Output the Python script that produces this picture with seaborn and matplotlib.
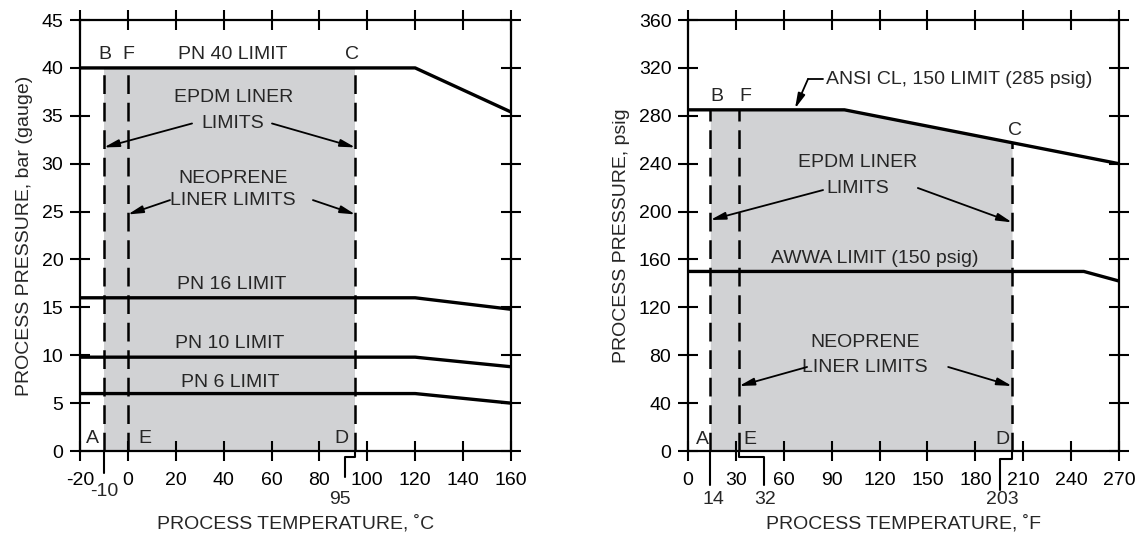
import matplotlib
matplotlib.use("Agg")
import matplotlib.pyplot as plt
import matplotlib.transforms as mtransforms
import numpy as np
import seaborn as sns

# --- data (metric chart) ---
temp_c = [-20, 120, 160]
pn40 = [40, 40, 35.4]
pn16 = [16, 16, 14.8]
pn10 = [9.8, 9.8, 8.8]
pn6 = [6, 6, 5.0]
c_limits = [-10, 0, 95]          # B/A, F/E, C/D
c_ticks = [-20, 0, 20, 40, 60, 80, 100, 120, 140, 160]
bar_ticks = [0, 5, 10, 15, 20, 25, 30, 35, 40, 45]

# --- data (imperial chart) ---
temp_f_ansi = [0, 98, 270]
ansi = [285, 285, 240]
temp_f_awwa = [0, 248, 270]
awwa = [150, 150, 142]
f_limits = [14, 32, 203]         # B/A, F/E, C/D
f_ticks = [0, 30, 60, 90, 120, 150, 180, 210, 240, 270]
psig_ticks = [0, 40, 80, 120, 160, 200, 240, 280, 320, 360]

sns.set_style("ticks")
plt.rcParams['font.family'] = ['Liberation Sans', 'DejaVu Sans']
FS = 14
GRAY = '#d1d2d4'
LW = 2.4
DASH = (7.5, 3.5)

fig = plt.figure(figsize=(11.41, 5.33), dpi=100)
ax1 = fig.add_axes([0.0701, 0.1538, 0.3777, 0.8086])
ax2 = fig.add_axes([0.603, 0.1538, 0.3777, 0.8086])


def frame(ax):
    for s in ax.spines.values():
        s.set_linewidth(1.6)
        s.set_color('k')
    ax.tick_params(direction='inout', length=14, width=1.5, top=True, right=True,
                   labeltop=False, labelright=False, labelsize=FS, colors='k')
    ax.tick_params(axis='x', pad=8)
    ax.tick_params(axis='y', pad=5)


def arrow(ax, start, end):
    ax.annotate('', xy=end, xytext=start,
                arrowprops=dict(arrowstyle='-|>,head_length=0.9,head_width=0.22',
                                color='k', lw=1.3, shrinkA=0, shrinkB=0))


def leader(ax, pts):
    tr = mtransforms.blended_transform_factory(ax.transData, ax.transAxes)
    xs, ys = zip(*pts)
    ax.plot(xs, ys, color='k', lw=1.5, transform=tr, clip_on=False)


def under_label(ax, x, y, s):
    tr = mtransforms.blended_transform_factory(ax.transData, ax.transAxes)
    ax.text(x, y, s, transform=tr, ha='center', va='center', fontsize=FS)


# ---------------- left chart ----------------
ax = ax1
ax.fill_between([c_limits[0], c_limits[2]], 0, 40, color=GRAY, lw=0, zorder=0)
for t in c_limits:
    ax.plot([t, t], [0, 40], color='k', lw=1.8, dashes=DASH, zorder=2)
for y in (pn40, pn16, pn10, pn6):
    sns.lineplot(x=temp_c, y=y, ax=ax, color='k', lw=LW, zorder=3)
ax.set_xlim(-20, 160)
ax.set_ylim(0, 45)
ax.set_xticks(c_ticks)
ax.set_yticks(bar_ticks)
ax.set_xticklabels([str(v) for v in c_ticks])
frame(ax)
ax.set_xlabel('PROCESS TEMPERATURE, ˚C', fontsize=FS, labelpad=19)
ax.set_ylabel('PROCESS PRESSURE, bar (gauge)', fontsize=FS, labelpad=6)

ax.text(-9.6, 41.4, 'B', ha='center', va='center', fontsize=FS)
ax.text(0, 41.4, 'F', ha='center', va='center', fontsize=FS)
ax.text(93.6, 41.4, 'C', ha='center', va='center', fontsize=FS)
ax.text(44, 41.4, 'PN 40 LIMIT', ha='center', va='center', fontsize=FS)
ax.text(-14.6, 1.3, 'A', ha='center', va='center', fontsize=FS)
ax.text(4.5, 1.3, 'E', ha='left', va='center', fontsize=FS)
ax.text(89.4, 1.3, 'D', ha='center', va='center', fontsize=FS)
ax.text(43.5, 17.4, 'PN 16 LIMIT', ha='center', va='center', fontsize=FS)
ax.text(42.7, 11.2, 'PN 10 LIMIT', ha='center', va='center', fontsize=FS)
ax.text(42.7, 7.2, 'PN 6 LIMIT', ha='center', va='center', fontsize=FS)
ax.text(44, 36.9, 'EPDM LINER', ha='center', va='center', fontsize=FS)
ax.text(44, 34.2, 'LIMITS', ha='center', va='center', fontsize=FS)
ax.text(44, 28.5, 'NEOPRENE', ha='center', va='center', fontsize=FS)
ax.text(44, 26.2, 'LINER LIMITS', ha='center', va='center', fontsize=FS)
arrow(ax, (26.8, 34.2), (-10, 31.7))
arrow(ax, (60.2, 34.2), (95, 31.7))
arrow(ax, (17.6, 26.2), (0, 24.7))
arrow(ax, (77.3, 26.2), (95, 24.7))

leader(ax, [(-10, 0), (-10, -0.051)])
leader(ax, [(95, 0), (95, -0.014), (90.7, -0.014), (90.7, -0.06)])
under_label(ax, -9.8, -0.095, '-10')
under_label(ax, 88.6, -0.112, '95')

# ---------------- right chart ----------------
ax = ax2
fx = [f_limits[0], temp_f_ansi[1], f_limits[2]]
ax.fill_between(fx, 0, np.interp(fx, temp_f_ansi, ansi), color=GRAY, lw=0, zorder=0)
for t in f_limits:
    ax.plot([t, t], [0, np.interp(t, temp_f_ansi, ansi)], color='k', lw=1.8,
            dashes=DASH, zorder=2)
sns.lineplot(x=temp_f_ansi, y=ansi, ax=ax, color='k', lw=LW, zorder=3)
sns.lineplot(x=temp_f_awwa, y=awwa, ax=ax, color='k', lw=LW, zorder=3)
ax.set_xlim(0, 270)
ax.set_ylim(0, 360)
ax.set_xticks(f_ticks)
ax.set_yticks(psig_ticks)
frame(ax)
ax.set_xlabel('PROCESS TEMPERATURE, ˚F', fontsize=FS, labelpad=19)
ax.set_ylabel('PROCESS PRESSURE, psig', fontsize=FS, labelpad=6)

ax.text(18.2, 296, 'B', ha='center', va='center', fontsize=FS)
ax.text(35.7, 296, 'F', ha='center', va='center', fontsize=FS)
ax.text(205, 268, 'C', ha='center', va='center', fontsize=FS)
ax.text(8.8, 10, 'A', ha='center', va='center', fontsize=FS)
ax.text(34.5, 10, 'E', ha='left', va='center', fontsize=FS)
ax.text(197, 10, 'D', ha='center', va='center', fontsize=FS)
ax.text(86.5, 310, 'ANSI CL, 150 LIMIT (285 psig)', ha='left', va='center', fontsize=FS)
ax.plot([84.6, 75.2], [310.8, 310.8], color='k', lw=1.3)
arrow(ax, (75.2, 310.8), (67, 286))
ax.text(106.5, 241.4, 'EPDM LINER', ha='center', va='center', fontsize=FS)
ax.text(106.5, 219.7, 'LIMITS', ha='center', va='center', fontsize=FS)
arrow(ax, (84.6, 218), (14, 193))
arrow(ax, (144, 219.7), (203, 191))
ax.text(117, 161, 'AWWA LIMIT (150 psig)', ha='center', va='center', fontsize=FS)
ax.text(111, 91, 'NEOPRENE', ha='center', va='center', fontsize=FS)
ax.text(111, 70, 'LINER LIMITS', ha='center', va='center', fontsize=FS)
arrow(ax, (74.6, 70.2), (32, 54.3))
arrow(ax, (163, 70.2), (203, 54.3))

leader(ax, [(14, 0), (14, -0.079)])
leader(ax, [(32, 0), (32, -0.014), (47.6, -0.014), (47.6, -0.079)])
leader(ax, [(203, 0), (203, -0.019), (195.5, -0.019), (195.5, -0.09)])
under_label(ax, 15.7, -0.112, '14')
under_label(ax, 48, -0.112, '32')
under_label(ax, 197, -0.112, '203')

fig.savefig('out.png', dpi=100)
